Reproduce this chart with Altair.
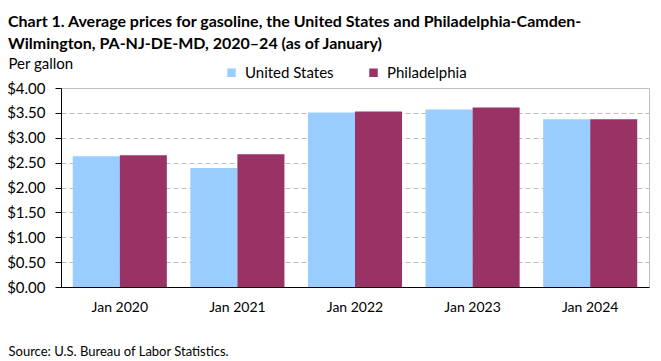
import altair as alt
import pandas as pd

years = ["Jan 2020", "Jan 2021", "Jan 2022", "Jan 2023", "Jan 2024"]
us_values = [2.63, 2.39, 3.51, 3.57, 3.37]
phila_values = [2.65, 2.67, 3.53, 3.61, 3.37]
series = ["United States", "Philadelphia"]
colors = ["#99ccff", "#993366"]

rows = []
for y, u, p in zip(years, us_values, phila_values):
    rows.append({"year": y, "area": series[0], "price": u})
    rows.append({"year": y, "area": series[1], "price": p})
df = pd.DataFrame(rows)

FONT = "Lato"

chart = alt.Chart(df).mark_bar().encode(
    x=alt.X("year:N", sort=years,
            scale=alt.Scale(paddingInner=0.2, paddingOuter=0.1),
            axis=alt.Axis(title="Source: U.S. Bureau of Labor Statistics.",
                          titleX=-53, titleY=64, titleAlign="left", titleBaseline="middle",
                          titleFontWeight="normal", titleFontSize=13, titleFont=FONT,
                          labelAngle=0, labelFontSize=14, labelFont=FONT, labelColor="#000",
                          labelPadding=13, ticks=False, domainColor="#000", grid=False)),
    xOffset=alt.XOffset("area:N", sort=series),
    y=alt.Y("price:Q",
            scale=alt.Scale(domain=[0, 4], nice=False),
            axis=alt.Axis(values=[0, 0.5, 1, 1.5, 2, 2.5, 3, 3.5, 4], format="$.2f",
                          title="Per gallon", titleAngle=0, titleX=-53, titleY=-25,
                          titleAlign="left", titleBaseline="middle",
                          titleFontWeight="normal", titleFontSize=15, titleFont=FONT,
                          labelFontSize=15, labelFont=FONT, labelColor="#000",
                          labelPadding=10, tickSize=6, tickColor="#000",
                          domainColor="#000",
                          gridColor="#bfbfbf", gridDash=[5, 3])),
    color=alt.Color("area:N", sort=series,
                    scale=alt.Scale(domain=series, range=colors),
                    legend=alt.Legend(title=None, orient="none", legendX=163, legendY=-23,
                                      direction="horizontal", symbolType="square",
                                      symbolSize=72, labelFontSize=15, labelFont=FONT,
                                      labelOffset=6, columnPadding=32, symbolOpacity=1)),
).properties(
    width=588,
    height=199,
    autosize="none",
    padding={"left": 53, "top": 80, "right": 4, "bottom": 73},
    title=alt.TitleParams(
        text=["Chart 1. Average prices for gasoline, the United States and Philadelphia-Camden-",
              "Wilmington, PA-NJ-DE-MD, 2020\u201324 (as of January)"],
        anchor="start", frame="group", dx=-53, offset=4,
        font=FONT, fontSize=16, fontWeight="bold", lineHeight=22, color="#000"),
).configure_view(stroke="#bfbfbf")

chart.save("out.html", embed_options={"renderer": "svg", "actions": False})
